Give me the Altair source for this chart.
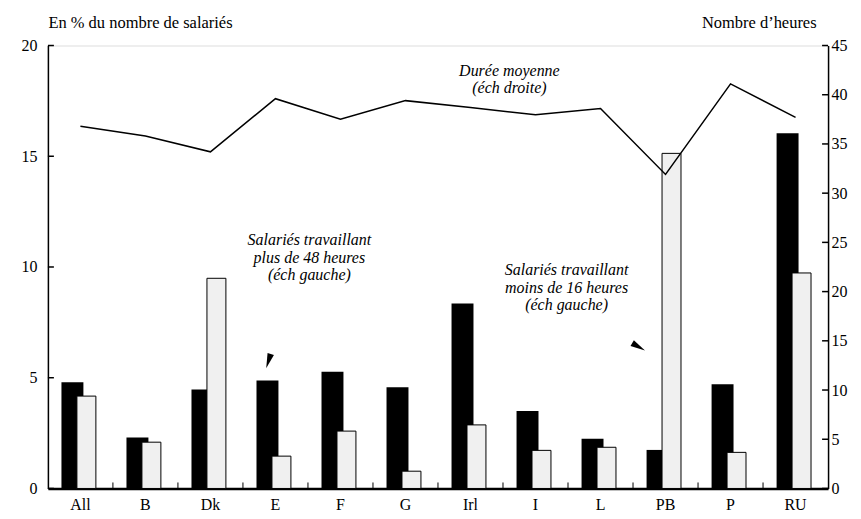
import altair as alt
import pandas as pd

# ---- data ----
countries = ["All", "B", "Dk", "E", "F", "G", "Irl", "I", "L", "PB", "P", "RU"]
over48 = [4.8, 2.3, 4.47, 4.88, 5.27, 4.57, 8.35, 3.5, 2.24, 1.74, 4.71, 16.04]
under16 = [4.17, 2.09, 9.49, 1.46, 2.59, 0.78, 2.87, 1.72, 1.86, 15.13, 1.63, 9.73]
hours = [36.8, 35.8, 34.2, 39.6, 37.5, 39.4, 38.7, 37.96, 38.6, 31.9, 41.1, 37.7]

left_ticks = [0, 5, 10, 15, 20]
right_ticks = [0, 5, 10, 15, 20, 25, 30, 35, 40, 45]

# annotations: text, anchor category, left-scale value (first line), pixel shift
note_texts = [
    ["Durée moyenne", "(éch droite)"],
    ["Salariés travaillant", "plus de 48 heures", "(éch gauche)"],
    ["Salariés travaillant", "moins de 16 heures", "(éch gauche)"],
]
note_cats = ["Irl", "E", "L"]
note_vals = [18.85, 11.2, 9.85]
note_dx = [39, 34, -34]

arrow_cats = ["E", "PB"]
arrow_vals = [5.75, 6.4]
arrow_dx = [-7, -27]
arrow_angle = [18, 300]

FONT = "Liberation Serif"

df = pd.DataFrame({"pays": countries, "over48": over48, "under16": under16, "hours": hours})

yl_scale = alt.Scale(domain=[0, 20], nice=False)
yr_scale = alt.Scale(domain=[0, 45], nice=False)

yl_axis = alt.Axis(
    title="En % du nombre de salariés", titleAngle=0, titleAlign="left", titleBaseline="alphabetic",
    titleX=0, titleY=-18, titleFont=FONT, titleFontSize=16.5, titleFontWeight="normal", titleColor="black",
    values=left_ticks, labelFont=FONT, labelFontSize=16, labelColor="black",
    ticks=False, labelPadding=11, grid=False,
    domainColor="black", domainWidth=1.5,
)
yr_axis = alt.Axis(
    orient="right",
    title="Nombre d’heures", titleAngle=0, titleAlign="right", titleBaseline="alphabetic",
    titleX=-12, titleY=-18, titleFont=FONT, titleFontSize=16.5, titleFontWeight="normal", titleColor="black",
    values=right_ticks, labelFont=FONT, labelFontSize=16, labelColor="black",
    ticks=False, labelPadding=3, grid=False,
    domainColor="black", domainWidth=1.5,
)
x_axis = alt.Axis(
    title=None, labelAngle=0, labelFont=FONT, labelFontSize=16, labelColor="black",
    labelPadding=8, ticks=False, grid=False,
    domainColor="black", domainWidth=2.5,
)
xscale = alt.Scale(paddingInner=0, paddingOuter=0)
xenc = alt.X("pays:N", sort=countries, scale=xscale, axis=x_axis)

base = alt.Chart(df)
black = base.mark_bar(color="black", width=22, xOffset=-8).encode(
    x=xenc, y=alt.Y("over48:Q", scale=yl_scale, axis=yl_axis)
)
gray = base.mark_bar(fill="#f0f0f0", stroke="black", strokeWidth=1, width=19, xOffset=6).encode(
    x=xenc, y=alt.Y("under16:Q", scale=yl_scale, axis=yl_axis)
)

# inward tick marks (drawn through the scales)
lt = alt.Chart(pd.DataFrame({"over48": left_ticks})).mark_rule(color="black", strokeWidth=1.5).encode(
    y=alt.Y("over48:Q", scale=yl_scale, axis=yl_axis), x=alt.value(0), x2=alt.value(6)
)
bt = alt.Chart(pd.DataFrame({"pays": countries[1:]})).mark_rule(color="black", strokeWidth=1).encode(
    x=alt.X("pays:N", sort=countries, scale=xscale, axis=x_axis, bandPosition=0),
    y=alt.value(444), y2=alt.value(438),
)

layers = [black, gray, lt, bt]
for txt, cat, val, dx in zip(note_texts, note_cats, note_vals, note_dx):
    ndf = pd.DataFrame({"pays": [cat], "over48": [val], "t": [txt]})
    layers.append(
        alt.Chart(ndf).mark_text(
            font=FONT, fontSize=16, fontStyle="italic", color="black", dx=dx,
            baseline="middle", align="center", lineHeight=17.5,
        ).encode(x=xenc, y=alt.Y("over48:Q", scale=yl_scale, axis=yl_axis), text="t")
    )
ARROW = "M-0.45,-1L0.45,-1L0,1Z"
for cat, val, dx, ang in zip(arrow_cats, arrow_vals, arrow_dx, arrow_angle):
    adf = pd.DataFrame({"pays": [cat], "over48": [val]})
    layers.append(
        alt.Chart(adf).mark_point(
            shape=ARROW, filled=True, color="black", opacity=1, size=220, angle=ang,
            xOffset=dx, strokeWidth=0,
        ).encode(x=xenc, y=alt.Y("over48:Q", scale=yl_scale, axis=yl_axis))
    )

left = alt.layer(*layers)
line = base.mark_line(color="black", strokeWidth=1.5).encode(
    x=xenc, y=alt.Y("hours:Q", scale=yr_scale, axis=yr_axis)
)
rt = alt.Chart(pd.DataFrame({"hours": right_ticks})).mark_rule(color="black", strokeWidth=1.5).encode(
    y=alt.Y("hours:Q", scale=yr_scale, axis=yr_axis), x=alt.value(776), x2=alt.value(782)
)
right = alt.layer(line, rt)

chart = (
    alt.layer(left, right)
    .resolve_scale(y="independent")
    .properties(width=782, height=444, autosize="none",
                padding={"left": 40, "top": 37, "right": 25, "bottom": 26})
    .configure_view(stroke="black", strokeWidth=2.5)
    .configure(font=FONT)
)

chart.save("out.html", embed_options={"renderer": "svg", "actions": False})
